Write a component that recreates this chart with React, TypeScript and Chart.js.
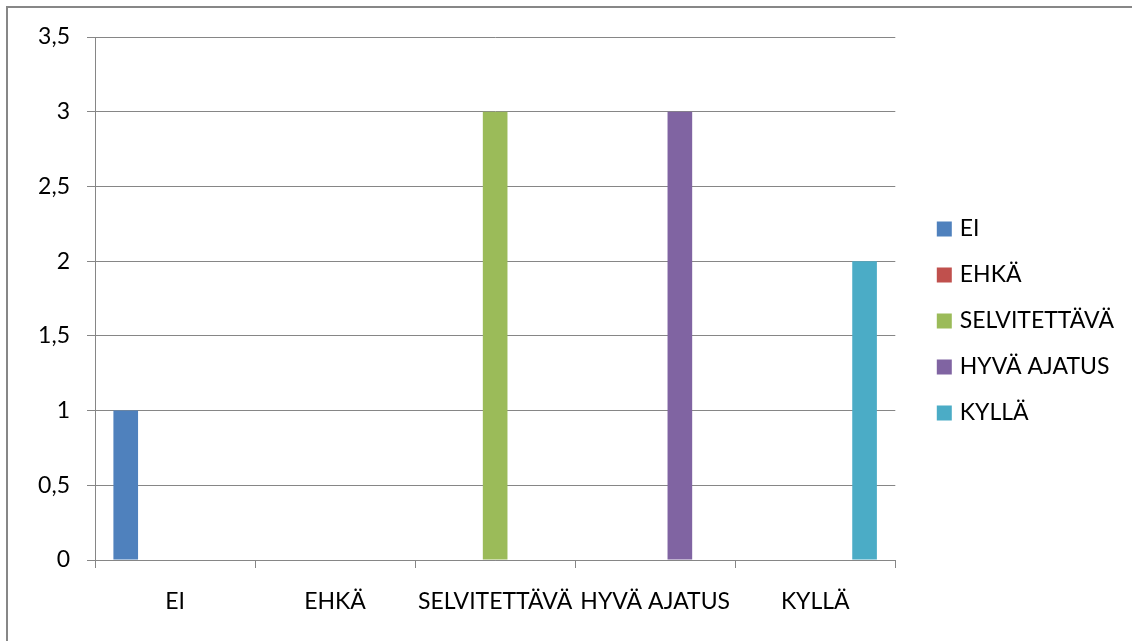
import React, { useEffect, useRef } from "react";
import { Chart, registerables } from "chart.js";

Chart.register(...registerables);

const categories = ["EI", "EHKÄ", "SELVITETTÄVÄ", "HYVÄ AJATUS", "KYLLÄ"];
const seriesNames = ["EI", "EHKÄ", "SELVITETTÄVÄ", "HYVÄ AJATUS", "KYLLÄ"];
const eiValues = [1, 0, 0, 0, 0];
const ehkaValues = [0, 0, 0, 0, 0];
const selvitettavaValues = [0, 0, 3, 0, 0];
const hyvaAjatusValues = [0, 0, 0, 3, 0];
const kyllaValues = [0, 0, 0, 0, 2];
const seriesColors = ["#4F81BD", "#C0504D", "#9BBB59", "#8064A2", "#4BACC6"];
const yTicks = [0, 0.5, 1, 1.5, 2, 2.5, 3, 3.5];

const FONT = "Lato";
const FONT_SIZE = 23;
const GRID = "#868686";

// shifts the legend box inside the space to the right of the plot area
const legendShift = {
  id: "legendShift",
  afterLayout(chart: any) {
    const lg = chart.legend;
    if (!lg) return;
    lg.left += 22;
    lg.right += 22;
    lg.top -= 18;
    lg.bottom -= 18;
  },
};

export default function App() {
  const ref = useRef<HTMLCanvasElement | null>(null);

  useEffect(() => {
    if (!ref.current) return;
    const values = [eiValues, ehkaValues, selvitettavaValues, hyvaAjatusValues, kyllaValues];
    const chart = new Chart(ref.current, {
      type: "bar",
      data: {
        labels: categories,
        datasets: seriesNames.map((name, i) => ({
          label: name,
          data: values[i],
          backgroundColor: seriesColors[i],
          borderWidth: 0,
          categoryPercentage: 0.77,
          barPercentage: 1,
        })),
      },
      plugins: [legendShift],
      options: {
        responsive: false,
        animation: false,
        layout: { padding: { top: 37, left: 0, right: 30, bottom: 0 } },
        plugins: {
          tooltip: { enabled: false },
          legend: {
            position: "right",
            labels: {
              usePointStyle: true,
              pointStyle: "rect",
              boxWidth: 8,
              boxHeight: 15,
              padding: 23,
              color: "#000",
              font: { family: FONT, size: FONT_SIZE },
            },
          },
        },
        scales: {
          x: {
            afterFit: (s: any) => {
              s.height = 81;
            },
            grid: {
              display: true,
              offset: true,
              drawOnChartArea: false,
              drawTicks: true,
              tickLength: 8,
              color: GRID,
              lineWidth: 1,
            },
            border: { display: true, color: GRID, width: 1 },
            ticks: {
              color: "#000",
              font: { family: FONT, size: FONT_SIZE },
              padding: 20,
              maxRotation: 0,
              autoSkip: false,
            },
          },
          y: {
            min: 0,
            max: 3.5,
            afterFit: (s: any) => {
              s.width = 95;
            },
            afterBuildTicks: (s: any) => {
              s.ticks = yTicks.map((v) => ({ value: v }));
            },
            grid: {
              color: GRID,
              lineWidth: 1,
              drawTicks: true,
              tickLength: 8,
            },
            border: { display: true, color: GRID, width: 1 },
            ticks: {
              color: "#000",
              font: { family: FONT, size: FONT_SIZE },
              padding: 17,
              callback: (v: any) => String(v).replace(".", ","),
            },
          },
        },
      },
    });
    return () => chart.destroy();
  }, []);

  return (
    <>
      <div
        style={{
          position: "fixed",
          left: 6,
          top: 6,
          width: 1300,
          height: 800,
          border: "2px solid #878787",
          background: "#fff",
        }}
      />
      <canvas
        ref={ref}
        width={1132}
        height={641}
        style={{ position: "fixed", left: 0, top: 0, width: 1132, height: 641 }}
      />
    </>
  );
}
